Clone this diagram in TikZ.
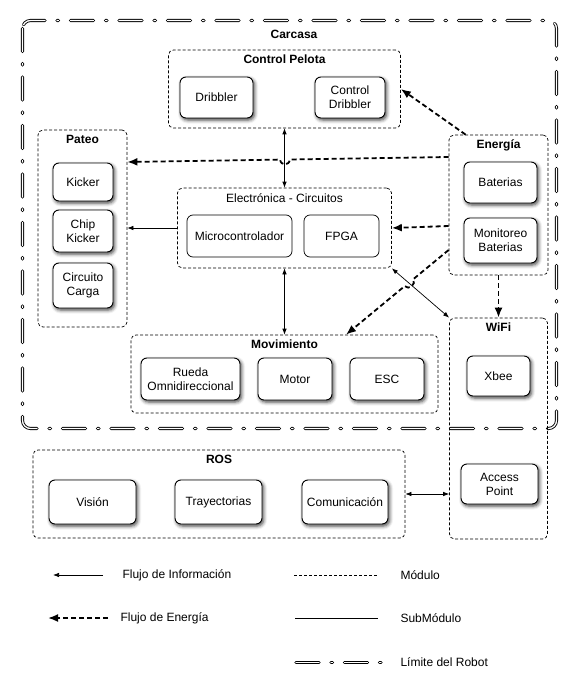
\documentclass[tikz,border=0pt]{standalone}
\usepackage{fontspec}
\setmainfont{Liberation Sans}
\usetikzlibrary{positioning,arrows.meta,shadows.blur}

\begin{document}
\begin{tikzpicture}[x=1pt,y=-1pt,
	every node/.style={font=\fontsize{12}{14}\selectfont},
	titulo/.style={font=\fontsize{12}{14}\selectfont\bfseries},
	modulo/.style={draw,dash pattern=on 3pt off 2pt,line width=0.7pt,rounded corners=5pt},
	subsimple/.style={draw,fill=white,line width=0.7pt,rounded corners=6pt,align=center,inner sep=2pt},
	submod/.style={subsimple,line width=0.9pt,blur shadow={shadow xshift=1.5pt,shadow yshift=-2pt,shadow blur radius=3.5pt,shadow opacity=75}},
	flujoinfo/.style={line width=0.7pt,-{Latex[length=6pt,width=4.5pt]}},
	infodoble/.style={line width=0.7pt,{Latex[length=6pt,width=4.5pt]}-{Latex[length=6pt,width=4.5pt]}},
	flujoenergia/.style={line width=1.8pt,dash pattern=on 5pt off 3pt,-{Latex[length=10pt,width=8pt]}},
	limite/.style={draw=black,double=white,line width=0.9pt,double distance=1.3pt,line cap=round,dash pattern=on 23pt off 12pt on 1.5pt off 12pt,rounded corners=8pt}]
	\useasboundingbox (0,0) rectangle (580,679);

	% Carcasa
	\draw[limite] (22.5,20.5) rectangle (556.5,428.5);
	\node[titulo] (carcasa) at (294,34) {Carcasa};

	% Control Pelota
	\node[modulo,minimum width=232pt,minimum height=78pt] (pelota) at (284.5,89) {};
	\node[titulo,below=2pt of pelota.north] (tpelota) {Control Pelota};
	\node[submod,minimum width=73pt,minimum height=41pt] (dribbler) at (216.5,97.5) {Dribbler};
	\node[submod,minimum width=70pt,minimum height=41pt] (cdribbler) at (350,97.5) {Control\\Dribbler};

	% Pateo
	\node[modulo,minimum width=89pt,minimum height=197pt] (pateo) at (82.5,228.5) {};
	\node[titulo,below=2pt of pateo.north] (tpateo) {Pateo};
	\node[submod,minimum width=60pt,minimum height=38pt] (kicker) at (83,182) {Kicker};
	\node[submod,minimum width=60pt,minimum height=42pt] (chip) at (83,231) {Chip\\Kicker};
	\node[submod,minimum width=60pt,minimum height=45pt] (circuito) at (83,285.5) {Circuito\\Carga};

	% Electronica
	\node[modulo,minimum width=214pt,minimum height=80pt] (electronica) at (284.5,228) {};
	\node[below=2pt of electronica.north] (telectronica) {Electrónica - Circuitos};
	\node[subsimple,minimum width=105pt,minimum height=42pt] (micro) at (239.5,236) {Microcontrolador};
	\node[subsimple,minimum width=75pt,minimum height=42pt] (fpga) at (341.5,236) {FPGA};

	% Energia
	\node[modulo,minimum width=99pt,minimum height=140pt] (energia) at (498.5,205) {};
	\node[titulo,below=2pt of energia.north] (tenergia) {Energía};
	\node[submod,minimum width=73pt,minimum height=41pt] (baterias) at (500.5,182.5) {Baterias};
	\node[submod,minimum width=73pt,minimum height=45pt] (monitoreo) at (500.5,240.5) {Monitoreo\\Baterias};

	% Movimiento
	\node[modulo,minimum width=307pt,minimum height=78pt] (movimiento) at (284.5,374) {};
	\node[titulo,below=2pt of movimiento.north] (tmovimiento) {Movimiento};
	\node[submod,minimum width=99pt,minimum height=42pt] (rueda) at (190.5,379) {Rueda\\Omnidireccional};
	\node[submod,minimum width=74pt,minimum height=42pt] (motor) at (295,379) {Motor};
	\node[submod,minimum width=74pt,minimum height=42pt] (esc) at (387,379) {ESC};

	% WiFi
	\node[modulo,minimum width=98pt,minimum height=221pt] (wifi) at (498.5,428.5) {};
	\node[titulo,below=2pt of wifi.north] (twifi) {WiFi};
	\node[submod,minimum width=63pt,minimum height=40pt] (xbee) at (498.5,376) {Xbee};
	\node[submod,minimum width=77pt,minimum height=40pt] (access) at (499.5,484) {Access\\Point};

	% ROS
	\node[modulo,minimum width=372pt,minimum height=88pt] (ros) at (219,494) {};
	\node[titulo,below=2pt of ros.north] (tros) {ROS};
	\node[submod,minimum width=87pt,minimum height=44pt] (vision) at (92.5,502) {Visión};
	\node[submod,minimum width=87pt,minimum height=44pt] (trayectorias) at (218.5,502) {Trayectorias};
	\node[submod,minimum width=86pt,minimum height=44pt] (comunicacion) at (345,502) {Comunicación};

	% flujos
	\draw[flujoenergia] ([xshift=17pt]energia.north west) -- (pelota.east);
	\draw[flujoenergia] ([yshift=48pt]energia.west) -- (290,159.5)
		.. controls (289,166) and (281,166) .. (280,159.6) -- ([yshift=66.5pt]pateo.east);
	\draw[infodoble] (pelota.south) -- (electronica.north);
	\draw[flujoinfo] (electronica.west) -- (electronica.west -| pateo.east);
	\draw[flujoenergia] ([yshift=-21pt]energia.west) -- (electronica.east);
	\draw[flujoenergia] ([yshift=-45pt]energia.west) -- (413,279.4)
		.. controls (416.8,284) and (408.5,290.7) .. (404.7,286.1) -- ([xshift=61.5pt]movimiento.north);
	\draw[infodoble] (electronica.south east) -- (wifi.north west);
	\draw[infodoble] (electronica.south) -- (movimiento.north);
	\draw[flujoenergia] (energia.south) -- (wifi.north);
	\draw[infodoble] (ros.east) -- (ros.east -| wifi.west);

	% leyenda
	\coordinate (li1) at (103,575); \coordinate (li2) at (53,575);
	\draw[flujoinfo] (li1) -- (li2);
	\node[anchor=west] (lflujoinfo) at (119,575) {Flujo de Información};
	\coordinate (le1) at (108,618); \coordinate (le2) at (48,618);
	\draw[flujoenergia] (le1) -- (le2);
	\node[anchor=west] (lflujoenergia) at (117,618) {Flujo de Energía};
	\coordinate (lm1) at (294,575); \coordinate (lm2) at (378,575);
	\draw[dash pattern=on 3pt off 2pt,line width=0.6pt] (lm1) -- (lm2);
	\node[anchor=west] (lmodulo) at (397,575) {Módulo};
	\coordinate (ls1) at (295,618); \coordinate (ls2) at (378,618);
	\draw[line width=0.8pt] (ls1) -- (ls2);
	\node[anchor=west] (lsubmodulo) at (397,618) {SubMódulo};
	\coordinate (ll1) at (296,662.5); \coordinate (ll2) at (384,662.5);
	\draw[limite] (ll1) -- (ll2);
	\node[anchor=west] (llimite) at (397,662) {Límite del Robot};
\end{tikzpicture}
\end{document}
